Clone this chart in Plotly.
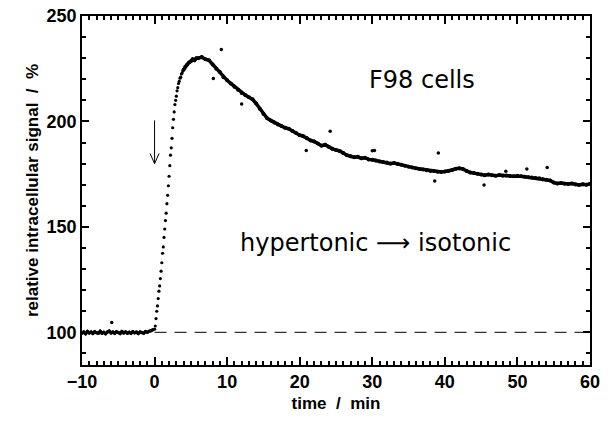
import plotly.graph_objects as go

# ---------------- data ----------------
# baseline before the medium change, sampled every 0.25 min from -10 min
base_t0, base_dt = -10.0, 0.25
base_vals = [99.5, 100.2, 99.3, 100.4, 99.7, 100.1, 99.4, 100.3, 99.8, 99.5,
             100.5, 99.6, 100.0, 99.3, 100.2, 100.6, 99.7, 100.1, 99.5, 100.3,
             99.9, 99.4, 100.4, 99.7, 100.2, 99.6, 100.0, 99.5, 100.3, 99.8,
             100.1, 99.4, 100.2, 99.9, 99.6, 100.4, 100.0, 100.5, 100.8, 101.2]

# fast rise, sampled every 0.1 min from 0 min
rise_t0, rise_dt = 0.0, 0.1
rise_vals = [101.5, 103, 106.5, 110, 112.5, 116, 119.5, 122, 125.5, 129,
             133, 137.5, 140.5, 145, 149, 153, 156.5, 161, 165, 169.5,
             174, 179, 184, 187.5, 192, 197, 201, 204.5, 208, 210,
             212, 214.5, 216, 218, 219, 220.5, 221, 222.5, 223, 224]

# around the peak, sampled every 0.25 min from 4 min
peak_t0, peak_dt = 4.0, 0.25
peak_vals = [224.5, 226, 227, 228, 228.5, 229.5, 229, 230]

# slow decay, sampled every 0.5 min from 6 min
decay_t0, decay_dt = 6.0, 0.5
decay_vals = [230, 230.5, 229.5, 229, 227, 225, 223.5, 221, 219.5, 218,
              216.5, 215, 213.5, 212.5, 211.5, 210.5, 208.5, 206, 203.5, 201.5,
              200.5, 199.5, 198.5, 197.8, 197, 196.5, 195.5, 194.5, 193.5, 193,
              192, 191, 190.5, 189.5, 188.5, 189, 188, 187, 186.5, 186,
              185, 184, 183.5, 183, 183.2, 182.5, 182.8, 182, 181.8, 181.5,
              181, 180.8, 180.5, 180, 180.3, 179.8, 179.5, 179, 178.5, 178.2,
              177.8, 177.5, 177.2, 176.8, 176.5, 176.5, 176.2, 176, 176.3, 176.5,
              177, 177.6, 177.8, 177.4, 176.5, 175.8, 175.5, 175.2, 174.8, 174.5,
              174.8, 174.5, 174.2, 174.6, 174.3, 174.4, 174.1, 174, 174.2, 174,
              173.8, 173.5, 173.4, 173.2, 173, 172.6, 172.4, 172, 171, 170.6,
              170.8, 170.5, 170.3, 170.6, 170.1, 169.9, 170.2, 170, 170.4]

# isolated stray points
outlier_t = [-5.9, 8.1, 9.2, 12.0, 20.9, 24.2, 30.0, 30.3, 38.6, 39.1, 45.4, 48.4, 51.3, 54.1]
outlier_vals = [104.6, 220.4, 234.1, 208.3, 186.2, 195.3, 186.1, 186.2, 171.7, 185.0, 169.8, 176.4, 177.5, 178.2]

baseline_level = 100
x_range = [-10, 60]
y_range = [84.5, 250]
x_major_step, x_minor_step = 10, 1
y_major_step, y_minor_step = 50, 10

# annotation anchors (data units)
arrow_x, arrow_top, arrow_tip = 0.0, 200.5, 180.0
label_cells = ("F98 cells", 36.8, 219.5)
label_change = ("hypertonic\u00a0\u27f6\u00a0isotonic", 30.5, 142.2)


def times(t0, dt, vals):
    return [round(t0 + dt * i, 4) for i in range(len(vals))]


fig = go.Figure()
black = "black"

fig.add_trace(go.Scatter(x=times(base_t0, base_dt, base_vals), y=base_vals,
                         mode="lines+markers", line=dict(color=black, width=3),
                         marker=dict(color=black, size=3.5)))
fig.add_trace(go.Scatter(x=times(rise_t0, rise_dt, rise_vals), y=rise_vals,
                         mode="markers", marker=dict(color=black, size=3.2)))
fig.add_trace(go.Scatter(x=times(peak_t0, peak_dt, peak_vals) + times(decay_t0, decay_dt, decay_vals),
                         y=peak_vals + decay_vals,
                         mode="lines+markers", line=dict(color=black, width=3.5),
                         marker=dict(color=black, size=4)))
fig.add_trace(go.Scatter(x=outlier_t, y=outlier_vals, mode="markers",
                         marker=dict(color=black, size=3.5)))

# dashed reference line at 100 %
fig.add_shape(type="line", xref="x", yref="y", x0=0, x1=x_range[1],
              y0=baseline_level, y1=baseline_level,
              line=dict(color=black, width=1, dash="12px,8px"))

# thin open arrow marking the medium change
hw, hh = 0.62, 4.8
fig.add_shape(type="path", xref="x", yref="y",
              path=(f"M {arrow_x},{arrow_top} L {arrow_x},{arrow_tip} "
                    f"M {arrow_x - hw},{arrow_tip + hh} L {arrow_x},{arrow_tip} "
                    f"L {arrow_x + hw},{arrow_tip + hh}"),
              line=dict(color=black, width=1))

for text, x, y in (label_cells, label_change):
    fig.add_annotation(x=x, y=y, xref="x", yref="y", text=text, showarrow=False,
                       font=dict(family="DejaVu Sans", size=24, color=black),
                       xanchor="center", yanchor="middle")

fam = "Liberation Sans"
tick_font = dict(family=fam, size=18, color=black, weight="bold")
title_font = dict(family=fam, size=17, color=black, weight="bold")

fig.update_xaxes(range=x_range, tickmode="linear", tick0=0, dtick=x_major_step,
                 ticks="inside", ticklen=8, tickwidth=1.5, tickcolor=black,
                 showline=True, linecolor=black, linewidth=1.5, mirror="allticks",
                 showgrid=False, zeroline=False, tickfont=tick_font,
                 minor=dict(ticks="inside", dtick=x_minor_step, ticklen=4, tickcolor=black),
                 title=dict(text="time\u00a0\u00a0/\u00a0\u00a0min", font=title_font, standoff=6))
fig.update_yaxes(range=y_range, tickmode="linear", tick0=0, dtick=y_major_step,
                 ticks="inside", ticklen=7, tickwidth=1.5, tickcolor=black,
                 showline=True, linecolor=black, linewidth=1.5, mirror="allticks",
                 showgrid=False, zeroline=False, tickfont=tick_font,
                 minor=dict(ticks="inside", dtick=y_minor_step, ticklen=4, tickcolor=black),
                 title=dict(text="relative intracellular signal\u00a0 /\u00a0 %",
                            font=title_font, standoff=4))

fig.update_layout(width=611, height=425, showlegend=False, hovermode=False,
                  margin=dict(l=82, r=21, t=16, b=60, autoexpand=False),
                  paper_bgcolor="white", plot_bgcolor="white")

fig.write_html("out.html")
